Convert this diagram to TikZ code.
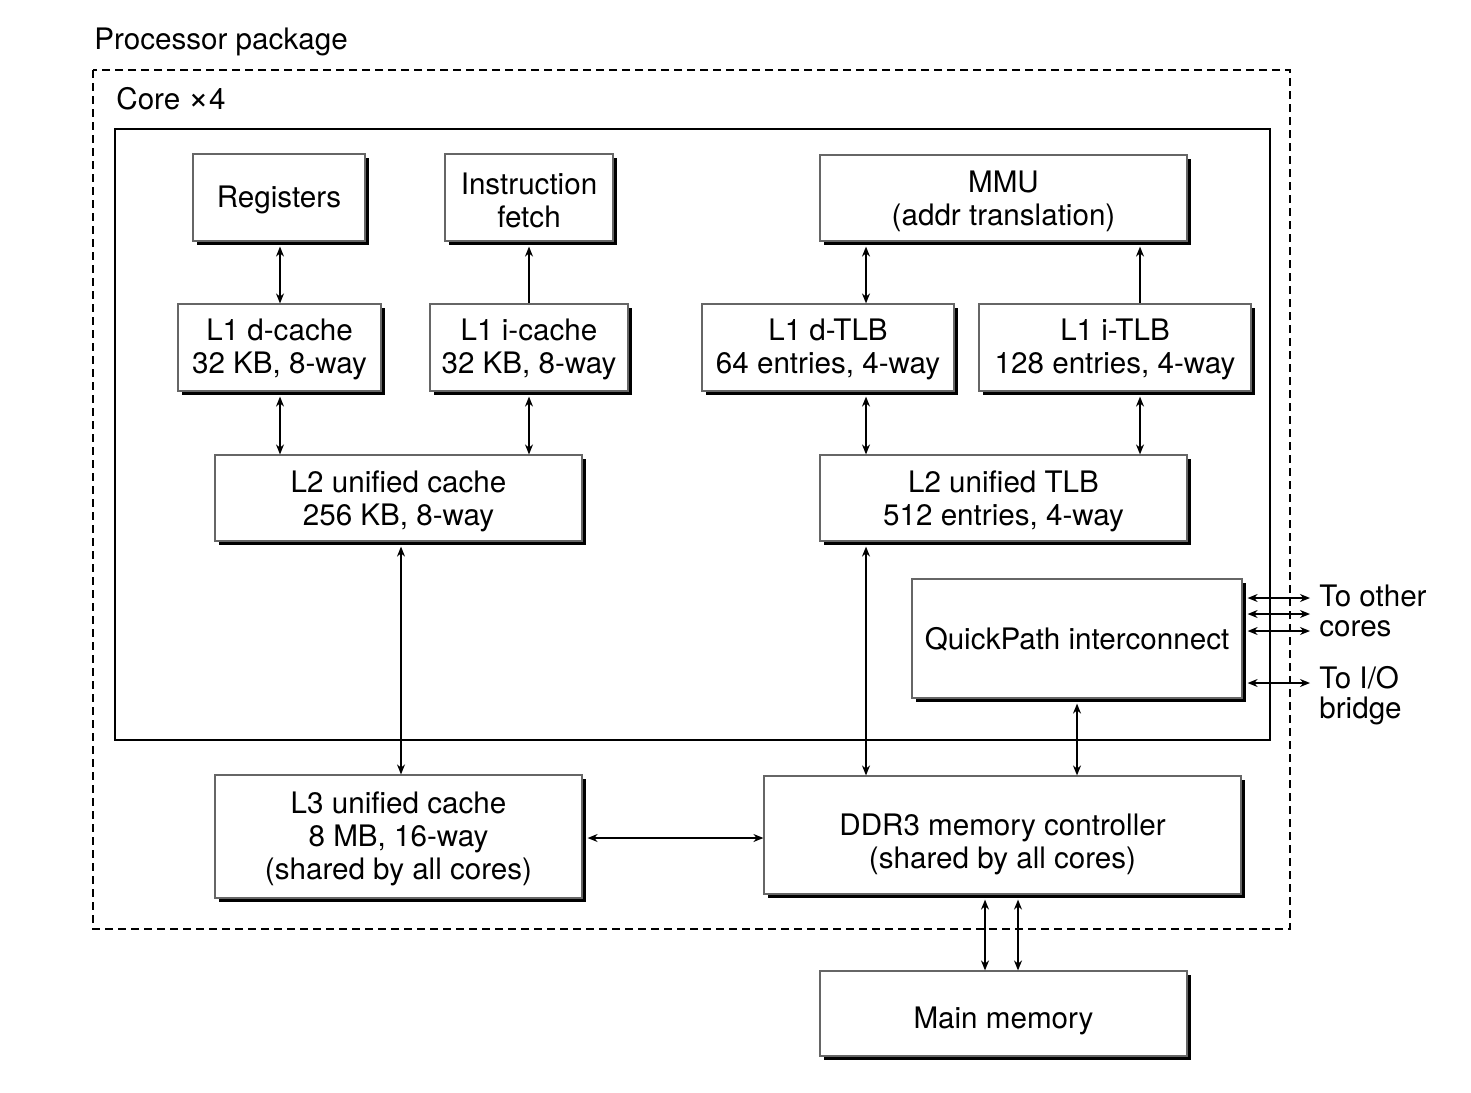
\documentclass[tikz,border=0pt]{standalone}
\usepackage{fontspec}
\setmainfont{TeX Gyre Heros}
\usetikzlibrary{arrows.meta,shadows}
\newcommand\myfs{\fontsize{14.8}{16.5}\selectfont}
\begin{document}
\begin{tikzpicture}[x=0.5pt,y=-0.5pt,
  blk/.style={draw=black!60, line width=0.6pt, fill=white, inner sep=0pt,
    drop shadow={shadow xshift=2.2pt, shadow yshift=-2.2pt, opacity=1, fill=black}},
  txt/.style={font=\myfs, inner sep=0pt, align=center},
  lbl/.style={font=\myfs, inner sep=0pt, anchor=west, align=left},
  arr/.style={line width=0.7pt, >={Stealth[length=5pt,width=4pt]}},
  sh/.style={shorten <=2.5pt},
]
\useasboundingbox (0,0) rectangle (1471,1092);
% containers
\draw[line width=0.7pt, dash pattern=on 4pt off 2.5pt] (93,70) rectangle (1290,929);
\draw[line width=1pt] (115,129) rectangle (1270,740);
\node[lbl] (pkg) at (94,42) {Processor package};
\node[lbl] (core) at (116,99) {Core \raisebox{0.2pt}{\scalebox{1.2}{×}}4};
% boxes
\node[blk, minimum width=86pt, minimum height=43.5pt] (reg) at (279,197.5) {};
\node[blk, minimum width=84pt, minimum height=43.5pt] (ifetch) at (529,197.5) {};
\node[blk, minimum width=183.5pt, minimum height=43pt] (mmu) at (1003.5,198) {};
\node[blk, minimum width=101.5pt, minimum height=43.5pt] (l1d) at (279.5,347.5) {};
\node[blk, minimum width=99pt, minimum height=43.5pt] (l1i) at (529,347.5) {};
\node[blk, minimum width=126pt, minimum height=43.5pt] (l1dt) at (828,347.5) {};
\node[blk, minimum width=136pt, minimum height=43.5pt] (l1it) at (1115,347.5) {};
\node[blk, minimum width=183.5pt, minimum height=43pt] (l2c) at (398.5,498) {};
\node[blk, minimum width=183.5pt, minimum height=43pt] (l2t) at (1003.5,498) {};
\node[blk, minimum width=165pt, minimum height=59.5pt] (qp) at (1077,638.5) {};
\node[blk, minimum width=183.5pt, minimum height=61.5pt] (l3) at (398.5,836.5) {};
\node[blk, minimum width=238.5pt, minimum height=59pt] (ddr) at (1002.5,835) {};
\node[blk, minimum width=183.5pt, minimum height=42.5pt] (mm) at (1003.5,1013.5) {};
% box texts
\node[txt] (regt) at ([yshift=-1pt]reg.center) {Registers};
\node[txt] (ifetcht) at ([yshift=-1.5pt]ifetch.center) {Instruction\\fetch};
\node[txt] (mmut) at ([yshift=-1.5pt]mmu.center) {MMU\\(addr translation)};
\node[txt] (l1dtx) at ([yshift=-1.2pt]l1d.center) {L1 d-cache\\32 KB, 8-way};
\node[txt] (l1itx) at ([yshift=-1.2pt]l1i.center) {L1 i-cache\\32 KB, 8-way};
\node[txt] (l1dttx) at ([yshift=-1.2pt]l1dt.center) {L1 d-TLB\\64 entries, 4-way};
\node[txt] (l1ittx) at ([yshift=-1.2pt]l1it.center) {L1 i-TLB\\128 entries, 4-way};
\node[txt] (l2ctx) at ([yshift=-1.5pt]l2c.center) {L2 unified cache\\256 KB, 8-way};
\node[txt] (l2ttx) at ([yshift=-1.5pt]l2t.center) {L2 unified TLB\\512 entries, 4-way};
\node[txt] (qptx) at ([yshift=-0.5pt]qp.center) {QuickPath interconnect};
\node[txt] (l3tx) at ([yshift=-1pt]l3.center) {L3 unified cache\\8 MB, 16-way\\(shared by all cores)};
\node[txt] (ddrtx) at ([yshift=-4.5pt]ddr.center) {DDR3 memory controller\\(shared by all cores)};
\node[txt] (mmtx) at ([yshift=-3.5pt]mm.center) {Main memory};
% side labels
\node[lbl, font=\fontsize{14.8}{15}\selectfont] (oth) at (1319,611) {To other\\cores};
\node[lbl, font=\fontsize{14.8}{15}\selectfont] (iob) at (1319,695.5) {To I/O\\bridge};
% x coordinates
\coordinate (xa) at (280,0);
\coordinate (xb) at (529,0);
\coordinate (xc) at (866,0);
\coordinate (xd) at (1140,0);
\coordinate (xe) at (401,0);
\coordinate (xf) at (1077,0);
\coordinate (xg) at (985,0);
\coordinate (xh) at (1018,0);
% vertical arrows
\draw[arr,<->,sh] (reg.south -| xa) -- (l1d.north -| xa);
\draw[arr,<-,sh] (ifetch.south -| xb) -- (l1i.north -| xb);
\draw[arr,<->,sh] (mmu.south -| xc) -- (l1dt.north -| xc);
\draw[arr,<-,sh] (mmu.south -| xd) -- (l1it.north -| xd);
\draw[arr,<->,sh] (l1d.south -| xa) -- (l2c.north -| xa);
\draw[arr,<->,sh] (l1i.south -| xb) -- (l2c.north -| xb);
\draw[arr,<->,sh] (l1dt.south -| xc) -- (l2t.north -| xc);
\draw[arr,<->,sh] (l1it.south -| xd) -- (l2t.north -| xd);
\draw[arr,<->,sh] (l2c.south -| xe) -- (l3.north -| xe);
\draw[arr,<->,sh] (l2t.south -| xc) -- (ddr.north -| xc);
\draw[arr,<->,sh] (qp.south -| xf) -- (ddr.north -| xf);
\draw[arr,<->,sh] (ddr.south -| xg) -- (mm.north -| xg);
\draw[arr,<->,sh] (ddr.south -| xh) -- (mm.north -| xh);
% horizontal arrows
\coordinate (hy) at (0,838);
\draw[arr,<->,sh] (l3.east |- hy) -- (ddr.west |- hy);
\coordinate (r1) at (1310,598);
\coordinate (r2) at (1310,614);
\coordinate (r3) at (1310,631);
\coordinate (r4) at (1310,683);
\draw[arr,<->,sh] (qp.east |- r1) -- (r1);
\draw[arr,<->,sh] (qp.east |- r2) -- (r2);
\draw[arr,<->,sh] (qp.east |- r3) -- (r3);
\draw[arr,<->,sh] (qp.east |- r4) -- (r4);
\end{tikzpicture}
\end{document}
